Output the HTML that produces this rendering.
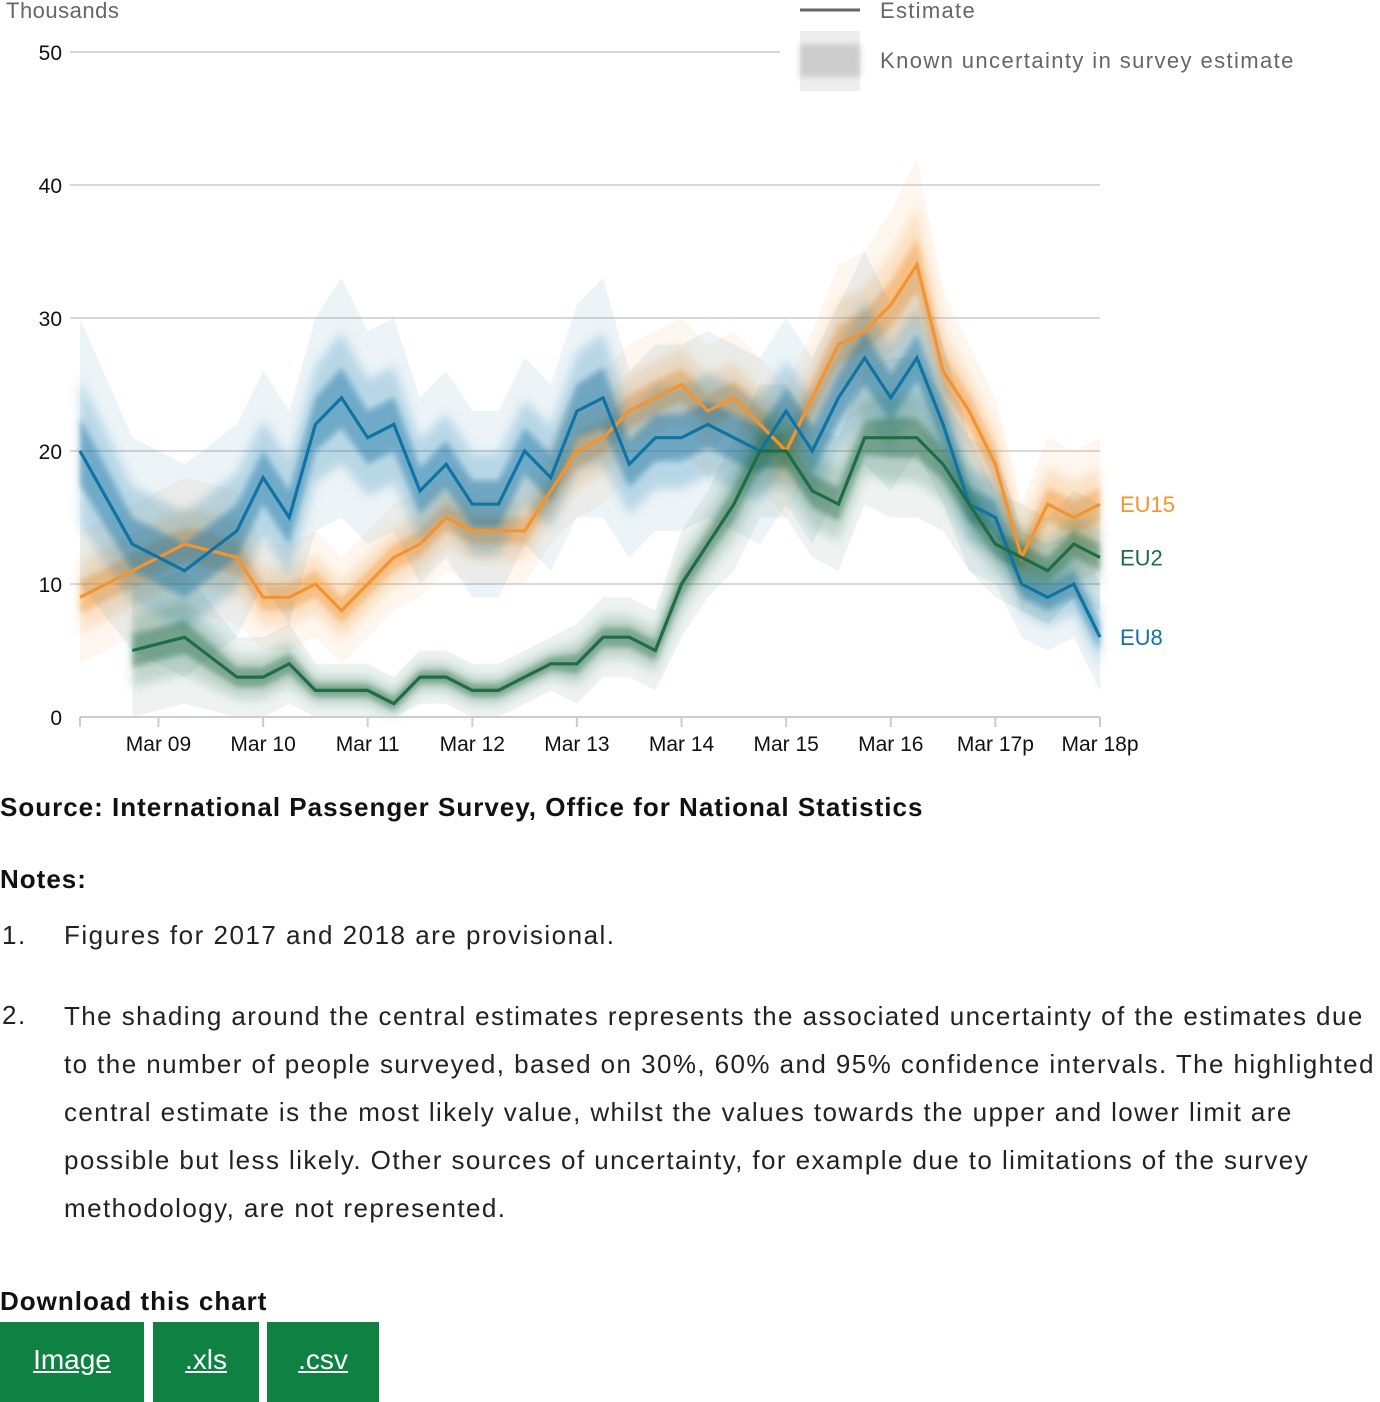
<!DOCTYPE html>
<html><head><meta charset="utf-8">
<style>
body{margin:0;width:1380px;height:1402px;background:#fff;font-family:"Liberation Sans",sans-serif;position:relative;overflow:hidden}
.t{position:absolute;white-space:nowrap}
.b{font-weight:bold;font-size:26px;color:#111;letter-spacing:1px}
.n{font-size:26px;color:#222;letter-spacing:1.5px}
.btn{position:absolute;top:1322px;height:80px;background:#0f8243;color:#fff;font-size:28px;text-decoration:underline;text-align:center;line-height:76px}
</style></head><body>
<svg id="chart" width="1380" height="770" style="position:absolute;left:0;top:0">
<defs>
<filter id="bl" x="-10%" y="-30%" width="120%" height="160%"><feGaussianBlur stdDeviation="5"/></filter>
<filter id="bl2" x="-10%" y="-30%" width="120%" height="160%"><feGaussianBlur stdDeviation="3"/></filter>
</defs>
<g id="grid"></g>
<g id="bands"></g>
<g id="lines"></g>
<g id="axes"></g>
<g>
<rect x="780" y="0" width="600" height="100" fill="#fff"/>
<line x1="800" y1="10" x2="860" y2="10" stroke="#666" stroke-width="3"/>
<text x="880" y="18" font-size="22" fill="#666" letter-spacing="1.3">Estimate</text>
<rect x="800" y="31" width="60" height="60" fill="#eee"/>
<rect x="800" y="44" width="60" height="33" fill="#ccc" filter="url(#bl2)"/>
<text x="880" y="68" font-size="22" fill="#666" letter-spacing="1.4">Known uncertainty in survey estimate</text>
</g>
<text x="6" y="18" font-size="22" fill="#666" letter-spacing="0.5">Thousands</text>
</svg>
<script>
const eu8=[20,16.5,13,12,11,12.5,14,18,15,22,24,21,22,17,19,16,16,20,18,23,24,19,21,21,22,21,20,23,20,24,27,24,27,22,16,15,10,9,10,6];
const eu15=[9,10,11,12,13,12.5,12,9,9,10,8,10,12,13,15,14,14,14,17,20,21,23,24,25,23,24,22,20,24,28,29,31,34,26,23,19,12,16,15,16];
const eu2=[null,null,5,5.5,6,4.5,3,3,4,2,2,2,1,3,3,2,2,3,4,4,6,6,5,10,13,16,20,20,17,16,21,21,21,19,16,13,12,11,13,12];
const eu8Err=[10,9,8,8,8,8,8,8,8,8,9,8,8,7,7,7,7,7,7,8,9,7,7,7,7,7,7,7,7,7,8,7,7,6,5,5,4,4,4,4];
const eu15Err=[5,5,5,5,5,5,5,4,4,4,4,4,4,4,4,4,4,4,4,5,5,5,5,5,5,5,5,5,5,6,6,7,8,6,5,5,4,5,5,5];
const eu2Err=[0,0,5,5,5,4,3,3,3,2,2,2,2,2,2,2,2,2,2,3,3,3,3,4,4,5,5,5,5,5,5,6,6,5,5,4,4,4,4,4];
const yTicks=[0,10,20,30,40,50];
const xLabels=["Mar 09","Mar 10","Mar 11","Mar 12","Mar 13","Mar 14","Mar 15","Mar 16","Mar 17p","Mar 18p"];
const xLabelIdx=[3,7,11,15,19,23,27,31,35,39];
const NS="http://www.w3.org/2000/svg";
const x=i=>80+i*(1020/39);
const y=v=>717-v*13.3;
function mk(p,tag,attrs){const e=document.createElementNS(NS,tag);for(const k in attrs)e.setAttribute(k,attrs[k]);p.appendChild(e);return e;}
const grid=document.getElementById('grid'),bands=document.getElementById('bands'),lines=document.getElementById('lines'),axes=document.getElementById('axes');
yTicks.forEach(t=>{
  if(t>0){const l=mk(grid,'line',{x1:70,x2:1100,y1:y(t),y2:y(t),stroke:'#ccc','stroke-width':1.5});
  
  }
  const tx=mk(axes,'text',{x:62,y:y(t)+8,'font-size':21,'text-anchor':'end',fill:'#111'});tx.textContent=t;
  
  
});
const ax=mk(axes,'line',{x1:80,x2:1100,y1:717,y2:717,stroke:'#ccc','stroke-width':2});


[0].concat(xLabelIdx).forEach(i=>{mk(axes,'line',{x1:x(i),x2:x(i),y1:717,y2:727,stroke:'#ccc','stroke-width':2});});
xLabels.forEach((s,k)=>{const tx=mk(axes,'text',{x:x(xLabelIdx[k]),y:751,'font-size':21,'text-anchor':'middle',fill:'#111'});tx.textContent=s;
  
  });
function band(vals,err,f){let up=[],dn=[];vals.forEach((v,i)=>{if(v==null)return;up.push(x(i)+','+y(v+err[i]*f));dn.unshift(x(i)+','+y(Math.max(0,v-err[i]*f)));});return up.concat(dn).join(' ');}
const series=[{n:'eu15',v:eu15,e:eu15Err,c:'#f39431'},{n:'eu8',v:eu8,e:eu8Err,c:'#0f74a3'},{n:'eu2',v:eu2,e:eu2Err,c:'#206c47'}];
series.forEach(s=>{
  const b1=mk(bands,'polygon',{points:band(s.v,s.e,1),fill:s.c,'fill-opacity':0.08});
  
  
  const b2=mk(bands,'polygon',{points:band(s.v,s.e,0.55),fill:s.c,'fill-opacity':0.22,filter:'url(#bl)'});
  
  
  const b3=mk(bands,'polygon',{points:band(s.v,s.e,0.25),fill:s.c,'fill-opacity':0.45,filter:'url(#bl2)'});
  
  
});
series.forEach(s=>{
  const pts=[];s.v.forEach((v,i)=>{if(v!=null)pts.push(x(i)+','+y(v));});
  const l=mk(lines,'polyline',{points:pts.join(' '),fill:'none',stroke:s.c,'stroke-width':3.2,'stroke-linejoin':'miter'});
  
  
});
[['EU15',eu15,'#f39431'],['EU2',eu2,'#206c47'],['EU8',eu8,'#0f74a3']].forEach(a=>{
  const tx=mk(axes,'text',{x:1120,y:y(a[1][39])+8,'font-size':22,fill:a[2]});tx.textContent=a[0];
  
  
});
</script>
<div class="t b" style="left:0;top:792px">Source: International Passenger Survey, Office for National Statistics</div>
<div class="t b" style="left:0;top:864px">Notes:</div>
<div class="t n" style="left:2px;top:920px">1.</div>
<div class="t n" style="left:64px;top:920px">Figures for 2017 and 2018 are provisional.</div>
<div class="t n" style="left:2px;top:1000px">2.</div>
<div class="t n" style="left:64px;top:992px;line-height:48px;letter-spacing:1.42px">The shading around the central estimates represents the associated uncertainty of the estimates due<br>to the number of people surveyed, based on 30%, 60% and 95% confidence intervals. The highlighted<br>central estimate is the most likely value, whilst the values towards the upper and lower limit are<br>possible but less likely. Other sources of uncertainty, for example due to limitations of the survey<br>methodology, are not represented.</div>
<div class="t b" style="left:0;top:1286px">Download this chart</div>
<div class="btn" style="left:0;width:144px">Image</div>
<div class="btn" style="left:153px;width:106px">.xls</div>
<div class="btn" style="left:267px;width:112px">.csv</div>
</body></html>
